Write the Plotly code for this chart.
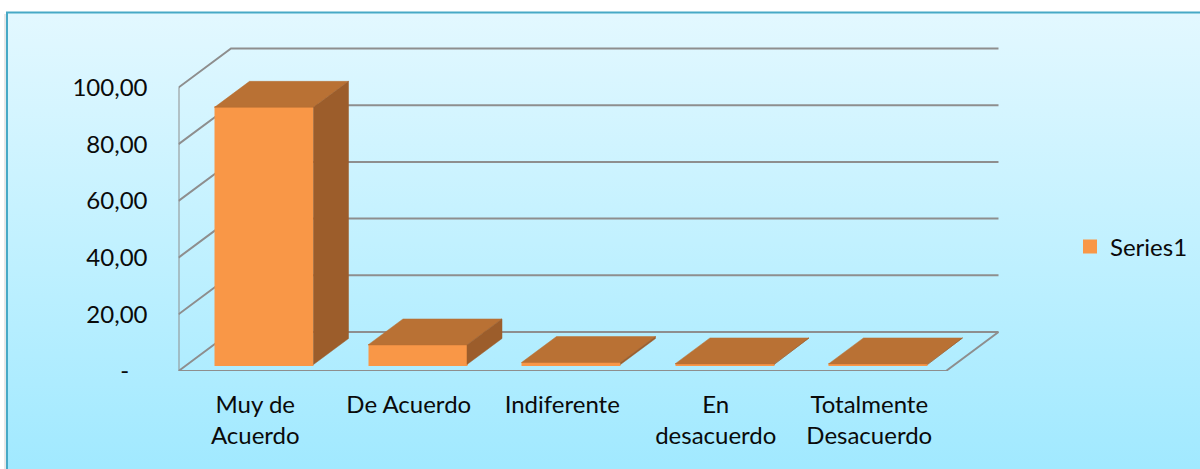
import plotly.graph_objects as go

categories = ["Muy de<br>Acuerdo", "De Acuerdo", "Indiferente", "En<br>desacuerdo", "Totalmente<br>Desacuerdo"]
values = [90.7, 6.9, 0.7, 0.2, 0.2]
y_ticks = [0, 20, 40, 60, 80, 100]
y_labels = ["-\u00a0\u00a0\u00a0", "20,00", "40,00", "60,00", "80,00", "100,00"]
series_name = "Series1"

W, H = 1200, 469
X0, X1 = 178.5, 1001.0      # pixel span of the main plot
Y0, Y1 = 371.0, 40.0
PX_CAT = 153.5
PX_VAL = 2.835
DX = 52.5 / PX_CAT          # depth shift in category units
DY = 39.0 / PX_VAL          # depth shift in value units
D_FRONT, D_BACK = 1 / 6, 5 / 6
BAR_W = 97.0 / PX_CAT
N = len(categories)

ORANGE, TOP, SIDE = "#F99747", "#B97134", "#9C5D2B"
GRID = "#8E8E8E"
TEXT = "#0A0A0A"
FONT = "Lato"

fig = go.Figure()

# background panel (first subplot)
fig.add_trace(go.Scatter(
    x=[0, 1, 1, 0, 0], y=[0, 0, 1, 1, 0], mode="lines", fill="toself",
    line=dict(color="rgba(0,0,0,0)", width=0),
    fillgradient=dict(type="vertical", colorscale=[[0, "#A1E9FF"], [0.5, "#C2F1FF"], [1, "#E3F8FF"]]),
    hoverinfo="skip", showlegend=False, xaxis="x", yaxis="y"))


def poly(xs, ys, color, width=2, fill=False, z=0):
    fig.add_trace(go.Scatter(
        x=xs, y=ys, mode="lines", fill="toself" if fill else None,
        fillcolor=color if fill else None,
        line=dict(color=color, width=width), cliponaxis=False,
        hoverinfo="skip", showlegend=False, xaxis="x2", yaxis="y2", zorder=z))


# walls and floor
for v in y_ticks:
    poly([0, DX, N + DX], [v, v + DY, v + DY], GRID, 2, z=0)
poly([0, 0], [0, y_ticks[-1]], GRID, 2, z=0)
poly([0, N, N + DX], [0, 0, DY], GRID, 2, z=0)

# front faces
fx = [i + 0.5 + DX * D_FRONT for i in range(N)]
fig.add_trace(go.Bar(
    x=fx, y=values, base=DY * D_FRONT, width=BAR_W, name=series_name,
    marker=dict(color=ORANGE, line=dict(width=2, color=ORANGE)), hoverinfo="x+y",
    xaxis="x2", yaxis="y2", zorder=1))

# tops and right sides
dd = D_BACK - D_FRONT
half = 99.0 / PX_CAT / 2
for x, v in zip(fx, values):
    l, r = x - half, x + half
    b = DY * D_FRONT
    t = b + v
    poly([l, r, r + DX * dd, l + DX * dd, l], [t, t, t + DY * dd, t + DY * dd, t], TOP, 0.5, True, 2)
    poly([r, r + DX * dd, r + DX * dd, r, r], [b, b + DY * dd, t + DY * dd, t, b], SIDE, 0.5, True, 2)

fig.update_layout(
    template="none",
    width=W, height=H, autosize=False,
    margin=dict(l=0, r=0, t=0, b=0, pad=0),
    paper_bgcolor="white", plot_bgcolor="rgba(0,0,0,0)",
    font=dict(family=FONT, size=24, color=TEXT),
    showlegend=True, bargap=0,
    legend=dict(x=1070 / W, y=1 - 247 / H, xanchor="left", yanchor="middle",
                bgcolor="rgba(0,0,0,0)", font=dict(family=FONT, size=24, color=TEXT),
                itemwidth=30, tracegroupgap=0),
    xaxis=dict(domain=[7 / W, 1], range=[0, 1], visible=False, fixedrange=True, automargin=False),
    yaxis=dict(domain=[0, 1 - 12 / H], range=[0, 1], visible=False, fixedrange=True, automargin=False),
    xaxis2=dict(domain=[X0 / W, X1 / W], range=[0, (X1 - X0) / PX_CAT], anchor="y2",
                tickmode="array", tickvals=[i + 0.5 for i in range(N)], ticktext=categories,
                showgrid=False, zeroline=False, showline=False, ticks="", automargin=False,
                ticklabelstandoff=17, fixedrange=True),
    yaxis2=dict(domain=[1 - Y0 / H, 1 - Y1 / H], range=[0, (Y0 - Y1) / PX_VAL], anchor="x2",
                tickmode="array", tickvals=y_ticks, ticktext=y_labels,
                showgrid=False, zeroline=False, showline=False, ticks="", automargin=False,
                ticklabelstandoff=30, fixedrange=True),
    shapes=[
        dict(type="rect", xref="paper", yref="paper", x0=4 / W, x1=6 / W, y0=0, y1=1 - 14 / H,
             line=dict(width=0), fillcolor="#E8E8E8", layer="below"),
        dict(type="rect", xref="paper", yref="paper", x0=7 / W, x1=1.02,
             y0=-0.02, y1=1 - 12.5 / H, line=dict(color="#47A9C6", width=2),
             fillcolor="rgba(0,0,0,0)", layer="above"),
    ],
)

fig.write_html("out.html", config=dict(displayModeBar=False),
               post_script="document.body.style.margin='0';window.dispatchEvent(new Event('resize'));")
